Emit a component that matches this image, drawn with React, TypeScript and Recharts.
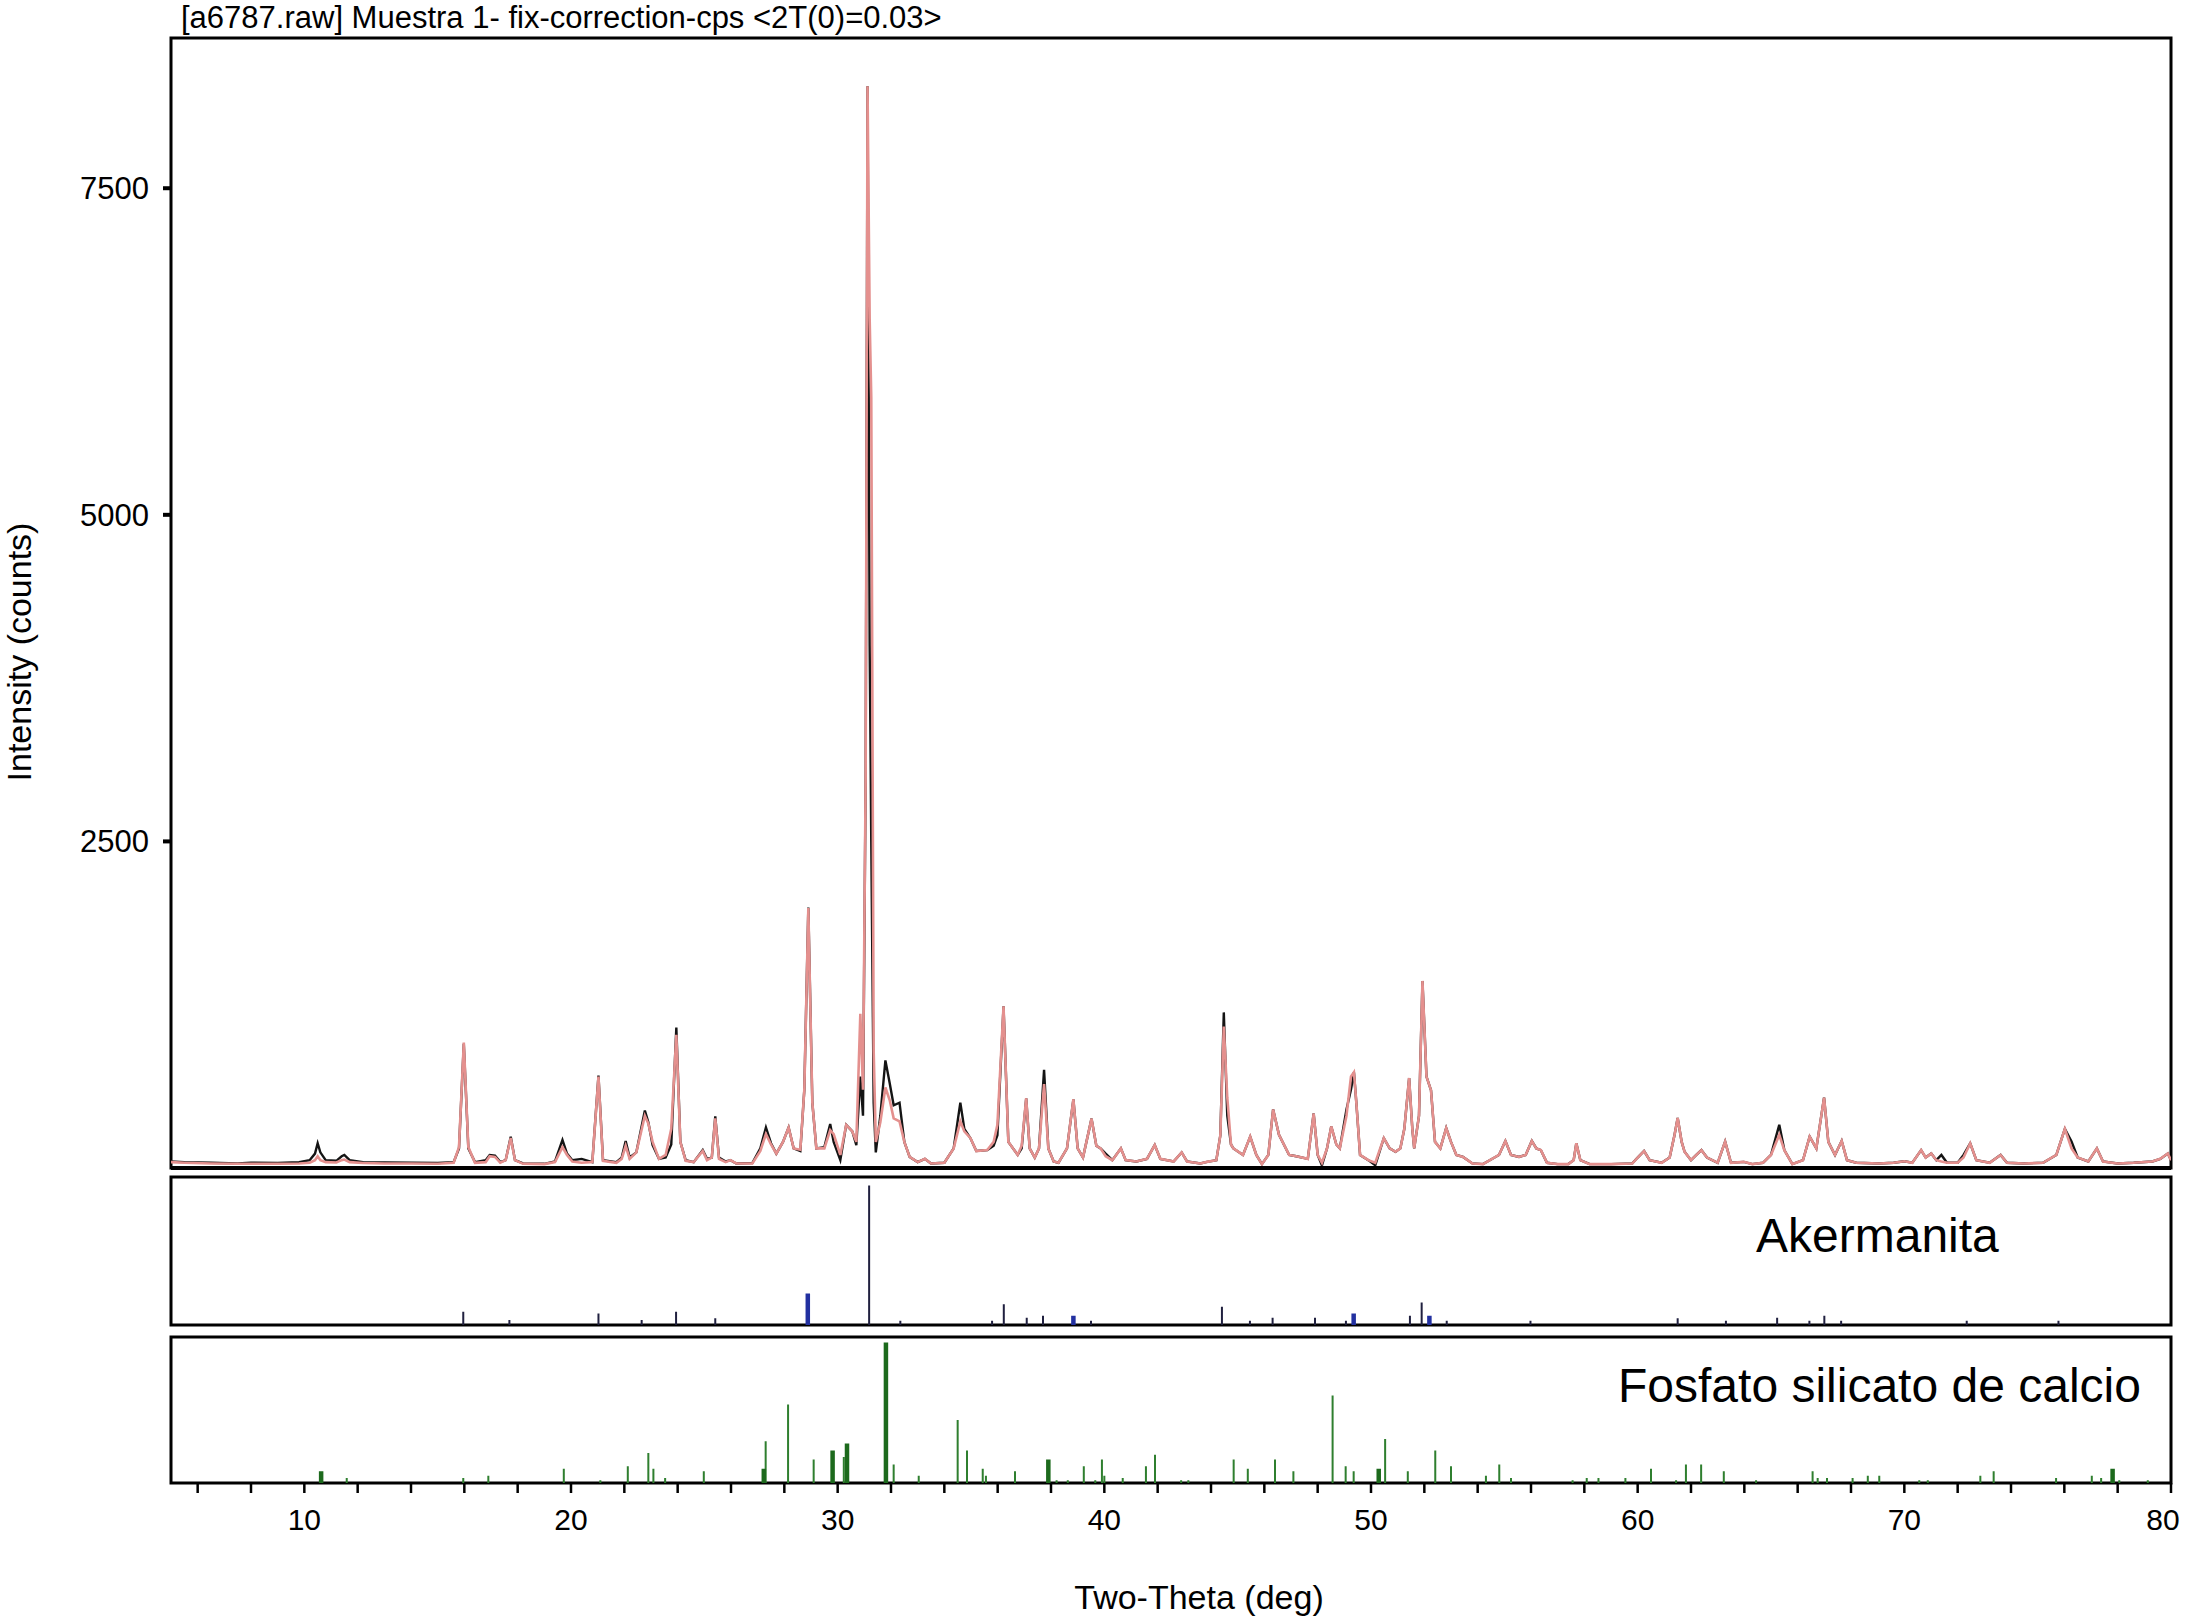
import { LineChart, Line, XAxis, YAxis, ReferenceArea, ReferenceLine } from 'recharts'

// Same metrics as Arial / Helvetica in the original figure.
const FONT = '"Liberation Sans", Arial, Helvetica, sans-serif'

const OBS = '#141414'
const CALC = '#e4908e'
const NAVY = '#20203f'
const BLUE = '#2230a0'
const GREEN = '#2f7f2f'
const GREEN_DARK = '#1d6a1d'

// Measured pattern (black) and fitted pattern (pink), counts vs 2-theta.
const twoTheta = [
  5.0, 5.5, 6.5, 7.5, 8.0, 9.0, 9.8, 10.2, 10.4, 10.5,
  10.6, 10.8, 11.2, 11.4, 11.5, 11.7, 12.2, 13.0, 14.0, 15.0,
  15.6, 15.8, 15.98, 16.15, 16.4, 16.8, 16.95, 17.15, 17.35, 17.55,
  17.74, 17.9, 18.2, 19.0, 19.4, 19.68, 19.85, 20.05, 20.4, 20.8,
  21.03, 21.2, 21.7, 21.9, 22.05, 22.2, 22.45, 22.77, 22.9, 23.06,
  23.3, 23.55, 23.76, 23.95, 24.1, 24.3, 24.6, 24.94, 25.1, 25.28,
  25.41, 25.55, 25.8, 25.98, 26.2, 26.8, 27.1, 27.31, 27.5, 27.7,
  27.95, 28.16, 28.35, 28.6, 28.75, 28.9, 29.05, 29.2, 29.5, 29.72,
  29.85, 30.1, 30.32, 30.55, 30.7, 30.85, 30.95, 31.05, 31.12, 31.2,
  31.26, 31.35, 31.43, 31.6, 31.79, 31.95, 32.1, 32.32, 32.5, 32.7,
  33.0, 33.27, 33.5, 34.0, 34.35, 34.6, 34.75, 34.98, 35.2, 35.61,
  35.85, 35.99, 36.22, 36.4, 36.75, 36.9, 37.07, 37.2, 37.39, 37.55,
  37.74, 37.9, 38.1, 38.28, 38.6, 38.84, 39.0, 39.2, 39.52, 39.7,
  39.86, 40.05, 40.3, 40.62, 40.8, 41.2, 41.6, 41.89, 42.1, 42.6,
  42.9, 43.1, 43.6, 43.85, 44.2, 44.35, 44.48, 44.61, 44.75, 44.84,
  45.2, 45.47, 45.7, 45.91, 46.15, 46.33, 46.55, 46.93, 47.2, 47.63,
  47.85, 48.0, 48.16, 48.35, 48.51, 48.7, 48.83, 49.08, 49.25, 49.36,
  49.45, 49.59, 49.9, 50.16, 50.48, 50.7, 50.92, 51.1, 51.25, 51.43,
  51.55, 51.62, 51.8, 51.93, 52.08, 52.25, 52.4, 52.6, 52.82, 53.0,
  53.2, 53.45, 53.8, 54.2, 54.8, 55.04, 55.25, 55.55, 55.8, 56.03,
  56.2, 56.37, 56.6, 57.0, 57.4, 57.6, 57.7, 57.85, 58.2, 59.0,
  59.8, 60.0, 60.24, 60.45, 60.9, 61.2, 61.38, 61.5, 61.65, 61.76,
  62.0, 62.2, 62.39, 62.6, 63.0, 63.28, 63.5, 63.98, 64.3, 64.7,
  65.0, 65.31, 65.5, 65.8, 66.2, 66.45, 66.7, 66.99, 67.15, 67.4,
  67.65, 67.85, 68.2, 69.05, 69.6, 70.0, 70.3, 70.63, 70.8, 71.01,
  71.2, 71.39, 71.6, 72.0, 72.22, 72.47, 72.7, 73.2, 73.61, 73.85,
  74.5, 75.2, 75.7, 76.02, 76.27, 76.5, 76.9, 77.22, 77.45, 78.0,
  78.6, 79.3, 79.6, 79.88, 80.0,
]

const observed = [
  50, 45, 40, 35, 40, 38, 45, 60, 110, 190,
  120, 60, 55, 90, 100, 60, 45, 42, 40, 38,
  45, 150, 950, 150, 45, 60, 100, 95, 45, 60,
  240, 60, 35, 32, 50, 215, 110, 60, 70, 45,
  707, 60, 45, 80, 207, 80, 120, 440, 350, 176,
  70, 80, 180, 1075, 200, 60, 45, 137, 70, 80,
  396, 80, 50, 60, 35, 38, 150, 310, 190, 110,
  200, 310, 150, 130, 600, 1994, 500, 150, 160, 337,
  200, 60, 330, 280, 175, 700, 400, 3000, 8280, 4000,
  2500, 500, 120, 400, 824, 650, 480, 500, 200, 85,
  45, 70, 35, 40, 150, 500, 300, 228, 130, 137,
  170, 250, 1238, 200, 100, 150, 534, 150, 80, 150,
  751, 150, 50, 40, 150, 526, 150, 80, 378, 170,
  150, 110, 60, 150, 60, 50, 70, 176, 70, 50,
  119, 50, 35, 47, 60, 250, 1191, 400, 180, 150,
  100, 240, 100, 30, 100, 448, 254, 100, 90, 70,
  417, 100, 20, 150, 318, 180, 150, 448, 600, 733,
  500, 100, 60, 20, 228, 150, 124, 150, 300, 689,
  300, 150, 400, 1432, 700, 596, 200, 150, 306, 200,
  100, 85, 35, 30, 100, 207, 100, 85, 100, 207,
  150, 137, 40, 30, 30, 60, 189, 60, 30, 30,
  35, 80, 130, 60, 40, 80, 250, 383, 200, 124,
  60, 100, 137, 80, 40, 202, 40, 47, 30, 40,
  100, 331, 137, 30, 60, 240, 150, 539, 200, 100,
  207, 60, 40, 34, 40, 52, 40, 137, 80, 111,
  60, 100, 40, 40, 100, 189, 60, 40, 100, 40,
  35, 40, 100, 300, 202, 80, 50, 150, 50, 35,
  40, 50, 70, 111, 60,
]

const calculated = [
  45, 40, 35, 32, 32, 32, 35, 40, 60, 90,
  60, 45, 42, 60, 65, 45, 38, 35, 35, 32,
  40, 160, 960, 160, 40, 45, 90, 85, 40, 60,
  230, 60, 32, 30, 45, 160, 100, 50, 40, 45,
  700, 55, 40, 70, 170, 70, 120, 400, 340, 200,
  70, 100, 300, 1020, 200, 55, 45, 130, 60, 80,
  380, 70, 45, 60, 35, 35, 130, 260, 180, 110,
  200, 310, 150, 140, 600, 1990, 500, 150, 150, 290,
  260, 100, 330, 280, 200, 1180, 600, 3000, 8280, 6500,
  5900, 900, 200, 350, 616, 520, 380, 357, 200, 85,
  45, 70, 35, 40, 150, 357, 280, 228, 130, 137,
  200, 330, 1238, 200, 100, 170, 534, 150, 80, 150,
  642, 150, 50, 40, 150, 526, 150, 80, 378, 170,
  150, 90, 60, 150, 60, 50, 70, 176, 70, 50,
  119, 50, 35, 47, 60, 250, 1083, 540, 180, 150,
  100, 240, 100, 30, 100, 448, 254, 100, 90, 70,
  417, 100, 40, 150, 318, 180, 150, 400, 700, 733,
  500, 100, 60, 40, 228, 150, 124, 150, 300, 689,
  300, 150, 400, 1432, 700, 596, 200, 150, 306, 200,
  100, 85, 35, 30, 100, 207, 100, 85, 100, 207,
  150, 137, 40, 30, 30, 60, 189, 60, 30, 30,
  35, 80, 130, 60, 40, 80, 250, 383, 200, 124,
  60, 100, 137, 80, 40, 202, 40, 47, 30, 40,
  100, 254, 137, 30, 60, 240, 150, 539, 200, 100,
  207, 60, 40, 34, 40, 52, 40, 137, 80, 111,
  60, 50, 40, 40, 80, 189, 60, 40, 100, 40,
  35, 40, 100, 300, 150, 80, 50, 150, 50, 35,
  40, 50, 70, 111, 60,
]

const intensityTicks = [0, 2500, 5000, 7500]

// Reference lines, relative intensity (tallest = 100)
const akermanitaPos = [
  15.96, 17.69, 21.03, 22.65, 23.94, 25.41, 31.18, 32.35, 35.79, 36.23,
  37.09, 37.7, 39.5, 44.41, 45.46, 46.31, 47.9, 49.06, 51.46, 51.9,
  52.84, 55.98, 61.5, 63.31, 65.23, 66.44, 67.0, 67.63, 72.34, 75.78,
]
const akermanitaInt = [
  9.5, 3.6, 8.3, 3.6, 9.5, 4.8, 100, 3.1, 3.1, 14.8,
  5.2, 6.7, 3.1, 13.1, 3.1, 5.2, 5.2, 3.1, 6.7, 16.2,
  3.1, 3.1, 4.8, 3.1, 5.2, 3.1, 6.7, 3.1, 3.1, 3.1,
]
const akermanitaBluePos = [28.88, 38.84, 49.35, 52.19]
const akermanitaBlueInt = [22.6, 6.7, 8.3, 6.7]

const fosfatoPos = [
  11.59, 15.96, 16.9, 19.73, 21.1, 22.13, 22.9, 23.09, 23.53, 24.98,
  27.3, 28.14, 29.1, 30.23, 32.1, 33.04, 34.5, 34.85, 35.44, 35.56,
  36.65, 38.21, 38.63, 39.23, 39.66, 39.91, 40.0, 40.69, 41.56, 41.9,
  42.88, 43.15, 44.85, 45.38, 46.4, 47.09, 48.56, 49.05, 49.35, 50.53,
  51.38, 52.41, 53.0, 54.31, 54.81, 55.25, 57.56, 58.09, 58.53, 59.54,
  60.5, 61.44, 61.81, 62.38, 63.23, 64.44, 66.56, 66.75, 67.1, 68.06,
  68.63, 69.06, 70.56, 70.88, 72.85, 73.35, 75.69, 77.03, 77.38, 78.06,
  79.13,
]
const fosfatoInt = [
  3.6, 3.6, 5.2, 10.2, 1.9, 11.9, 21.4, 10.2, 3.6, 8.3,
  29.8, 56, 16.7, 18.6, 13.1, 5.2, 44.8, 23.1, 10.2, 5.2,
  8.3, 1.9, 1.9, 11.9, 1.9, 16.7, 5.2, 3.6, 11.9, 20.2,
  1.9, 1.9, 16.7, 10.2, 16.7, 8.3, 62.4, 11.9, 8.3, 31.4,
  8.3, 23.1, 11.9, 5.2, 13.1, 3.6, 1.9, 3.6, 3.6, 3.6,
  10.2, 1.9, 13.1, 13.1, 8.3, 1.9, 8.3, 3.6, 3.6, 3.6,
  5.2, 5.2, 1.9, 1.9, 5.2, 8.3, 3.6, 5.2, 3.6, 1.9,
  1.9,
]
const fosfatoBoldPos = [10.63, 27.23, 29.81, 30.35, 31.81, 37.9, 50.29, 77.81]
const fosfatoBoldInt = [8.3, 10.2, 23.1, 28.1, 100, 16.7, 10.2, 10.2]

const thetaTicks = [
  6, 8, 10, 12, 14, 16, 18, 20, 22, 24, 26, 28, 30, 32, 34, 36, 38, 40, 42,
  44, 46, 48, 50, 52, 54, 56, 58, 60, 62, 64, 66, 68, 70, 72, 74, 76, 78, 80,
]

// each stick: baseline -> top, then a null so the next one starts fresh
const sticks = (pos: number[], val: number[]) =>
  pos.flatMap((t, i) => [
    { t, v: 0 },
    { t, v: val[i] },
    { t, v: null },
  ])

// only every 10 deg gets a number; the last one is nudged in so it isn't clipped
function ThetaTick(props: any) {
  const { x, y, payload } = props
  const v = payload?.value
  if (v % 10 !== 0) return null
  const dx = v === 80 ? -8 : 0
  return (
    <text x={x + dx} y={y} dy="0.71em" textAnchor="middle" fontSize={30} fontFamily={FONT} fill="#000">
      {v}
    </text>
  )
}

function StickPanel({
  top,
  height,
  yMax,
  series,
  showAxis,
}: {
  top: number
  height: number
  yMax: number
  series: { data: { t: number; v: number | null }[]; color: string; width: number }[]
  showAxis?: boolean
}) {
  const axisHeight = showAxis ? 60 : 0
  return (
    <div style={{ position: 'absolute', left: 0, top }}>
      <LineChart
        width={2186}
        height={height}
        margin={{ top: 7, right: 15, left: 171, bottom: showAxis ? height - 7 - 146 - axisHeight : 10 }}
      >
        <XAxis
          type="number"
          dataKey="t"
          domain={[5, 80]}
          allowDataOverflow
          hide={!showAxis}
          height={axisHeight}
          ticks={thetaTicks}
          interval={0}
          axisLine={false}
          tickSize={10}
          tickMargin={16}
          tickLine={{ stroke: '#000', strokeWidth: 2.5 }}
          tick={<ThetaTick />}
        />
        <YAxis type="number" domain={[0, yMax]} hide allowDataOverflow />
        {series.map((s, i) => (
          <Line
            key={i}
            data={s.data}
            dataKey="v"
            type="linear"
            stroke={s.color}
            strokeWidth={s.width}
            strokeLinecap="butt"
            dot={false}
            activeDot={false}
            connectNulls={false}
            isAnimationActive={false}
          />
        ))}
        <ReferenceArea x1={5} x2={80} y1={0} y2={yMax} fill="none" stroke="#000" strokeWidth={3} ifOverflow="visible" />
      </LineChart>
    </div>
  )
}

export default function App() {
  const profile = twoTheta.map((t, i) => ({ t, obs: observed[i], calc: calculated[i] }))

  return (
    <div
      style={{
        position: 'absolute',
        left: 0,
        top: 0,
        width: 2186,
        height: 1619,
        background: '#fff',
        overflow: 'hidden',
        fontFamily: FONT,
      }}
    >
      <div style={{ position: 'absolute', left: 0, top: 0 }}>
        <LineChart width={2186} height={1180} data={profile} margin={{ top: 38, right: 15, bottom: 12, left: 91 }}>
          <XAxis type="number" dataKey="t" domain={[5, 80]} hide allowDataOverflow />
          <YAxis
            type="number"
            domain={[0, 8650]}
            ticks={intensityTicks}
            width={80}
            axisLine={false}
            tickSize={8}
            tickMargin={14}
            tickLine={{ stroke: '#000', strokeWidth: 4 }}
            tick={{ fill: '#000', fontSize: 31, fontFamily: FONT }}
            allowDataOverflow
          />
          <Line
            dataKey="obs"
            type="linear"
            stroke={OBS}
            strokeWidth={2.4}
            dot={false}
            activeDot={false}
            isAnimationActive={false}
          />
          <Line
            dataKey="calc"
            type="linear"
            stroke={CALC}
            strokeWidth={2.6}
            dot={false}
            activeDot={false}
            isAnimationActive={false}
          />
          <ReferenceLine y={0} stroke="#000" strokeWidth={4} />
          <ReferenceArea x1={5} x2={80} y1={0} y2={8650} fill="none" stroke="#000" strokeWidth={3} ifOverflow="visible" />
        </LineChart>
      </div>

      <StickPanel
        top={1170}
        height={165}
        yMax={106}
        series={[
          { data: sticks(akermanitaPos, akermanitaInt), color: NAVY, width: 2 },
          { data: sticks(akermanitaBluePos, akermanitaBlueInt), color: BLUE, width: 4.5 },
        ]}
      />

      <StickPanel
        top={1330}
        height={289}
        yMax={104}
        showAxis
        series={[
          { data: sticks(fosfatoPos, fosfatoInt), color: GREEN, width: 2 },
          { data: sticks(fosfatoBoldPos, fosfatoBoldInt), color: GREEN_DARK, width: 4.5 },
        ]}
      />

      <svg width={2186} height={1619} style={{ position: 'absolute', left: 0, top: 0, pointerEvents: 'none' }}>
        <text x={181} y={28} fontSize={31} fontFamily={FONT} fill="#000">
          [a6787.raw] Muestra 1- fix-correction-cps &lt;2T(0)=0.03&gt;
        </text>
        <text transform="translate(31,652) rotate(-90)" textAnchor="middle" fontSize={34} fontFamily={FONT} fill="#000">
          Intensity (counts)
        </text>
        <text x={1199} y={1609} textAnchor="middle" fontSize={34} fontFamily={FONT} fill="#000">
          Two-Theta (deg)
        </text>
        <text x={1756} y={1252} fontSize={48} fontFamily={FONT} fill="#000">
          Akermanita
        </text>
        <text x={1618} y={1402} fontSize={48} fontFamily={FONT} fill="#000">
          Fosfato silicato de calcio
        </text>
      </svg>
    </div>
  )
}
